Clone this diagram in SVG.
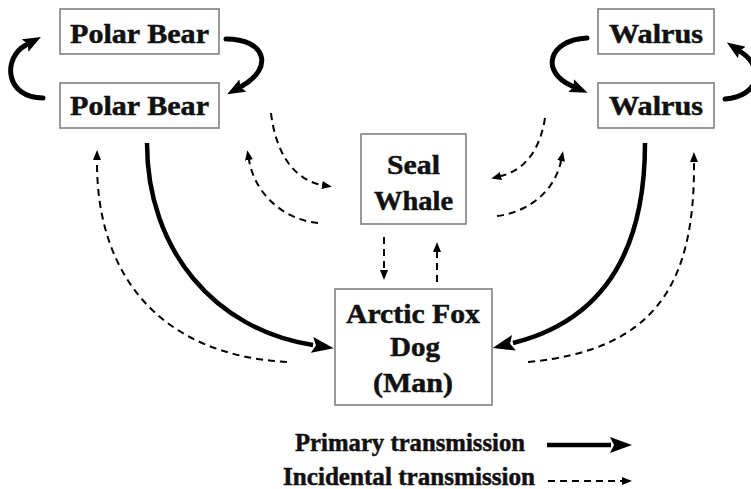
<svg xmlns="http://www.w3.org/2000/svg" width="751" height="489" viewBox="0 0 751 489">
<style>
.box{fill:#fff;stroke:#808080;stroke-width:1.6}
.lbl{font-family:"Liberation Serif","Times New Roman",serif;font-weight:bold;font-size:28px;fill:#111;stroke:#111;stroke-width:0.5;text-anchor:middle}
.leg{font-family:"Liberation Serif","Times New Roman",serif;font-weight:bold;font-size:25px;fill:#111;stroke:#111;stroke-width:0.5}
.prim{fill:none;stroke:#000;stroke-width:4.5;stroke-linecap:butt}
.cyc{fill:none;stroke:#000;stroke-width:5;stroke-linecap:round}
.inc{fill:none;stroke:#000;stroke-width:2;stroke-dasharray:7 5}
</style>
<defs>
<marker id="hp" markerUnits="userSpaceOnUse" markerWidth="22" markerHeight="16" refX="1" refY="8" orient="auto" viewBox="0 0 22 16">
<path d="M0,0 L22,8 L0,16 L4,8 z" fill="#000"/>
</marker>
<marker id="hc" markerUnits="userSpaceOnUse" markerWidth="18" markerHeight="14" refX="1" refY="7" orient="auto" viewBox="0 0 18 14">
<path d="M0,0 L18,7 L0,14 L3,7 z" fill="#000"/>
</marker>
<marker id="hi" markerUnits="userSpaceOnUse" markerWidth="10" markerHeight="8" refX="0" refY="4" orient="auto" viewBox="0 0 10 8">
<path d="M0,0 L10,4 L0,8 z" fill="#000"/>
</marker>
</defs>
<rect width="751" height="489" fill="#fff"/>
<g id="connectors">
<path class="cyc" d="M43,98 C5,98 2,58 26,45" marker-end="url(#hc)"/>
<path class="cyc" d="M226,39 C266,39 274,68 242,86" marker-end="url(#hc)"/>
<path class="cyc" d="M587,38 C548,40 540,72 572,86" marker-end="url(#hc)"/>
<path class="cyc" d="M725,99 C760,96 765,68 741,52" marker-end="url(#hc)"/>
<path class="prim" d="M147,143 C147,250 215,330 313,345" marker-end="url(#hp)"/>
<path class="prim" d="M645,143 C645,250 605,320 513,343" marker-end="url(#hp)"/>
<path class="inc" d="M287,362 C160,355 96,275 97,160" marker-end="url(#hi)"/>
<path class="inc" d="M528,362 C655,350 695,285 694,162" marker-end="url(#hi)"/>
<path class="inc" d="M271,113 C276,155 295,180 322,185" marker-end="url(#hi)"/>
<path class="inc" d="M318,223 C285,220 255,195 249,160" marker-end="url(#hi)"/>
<path class="inc" d="M545,118 C540,150 525,170 501,176" marker-end="url(#hi)"/>
<path class="inc" d="M497,216 C530,212 555,190 561,161" marker-end="url(#hi)"/>
<path class="inc" d="M384,237 L384,270" marker-end="url(#hi)"/>
<path class="inc" d="M437,282 L437,252" marker-end="url(#hi)"/>
</g>
<g id="polarbear1">
<rect class="box" x="60" y="9" width="159" height="45"/>
<text class="lbl" x="139.5" y="43" textLength="139" lengthAdjust="spacingAndGlyphs">Polar Bear</text>
</g>
<g id="polarbear2">
<rect class="box" x="60" y="83" width="159" height="45"/>
<text class="lbl" x="139.5" y="115" textLength="139" lengthAdjust="spacingAndGlyphs">Polar Bear</text>
</g>
<g id="walrus1">
<rect class="box" x="598" y="9" width="116" height="45"/>
<text class="lbl" x="656" y="43" textLength="94" lengthAdjust="spacingAndGlyphs">Walrus</text>
</g>
<g id="walrus2">
<rect class="box" x="598" y="83" width="116" height="45"/>
<text class="lbl" x="656" y="115" textLength="94" lengthAdjust="spacingAndGlyphs">Walrus</text>
</g>
<g id="sealwhale">
<rect class="box" x="361" y="134" width="105" height="90"/>
<text class="lbl" x="413.5" y="174" textLength="53" lengthAdjust="spacingAndGlyphs">Seal</text>
<text class="lbl" x="413.5" y="210" textLength="79" lengthAdjust="spacingAndGlyphs">Whale</text>
</g>
<g id="arcticfox">
<rect class="box" x="335" y="289" width="157" height="116"/>
<text class="lbl" x="413" y="323" textLength="134" lengthAdjust="spacingAndGlyphs">Arctic Fox</text>
<text class="lbl" x="415" y="356" textLength="50" lengthAdjust="spacingAndGlyphs">Dog</text>
<text class="lbl" x="413" y="392" textLength="80" lengthAdjust="spacingAndGlyphs">(Man)</text>
</g>
<g id="legend">
<text class="leg" x="295" y="451" textLength="230" lengthAdjust="spacingAndGlyphs">Primary transmission</text>
<text class="leg" x="283" y="485" textLength="252" lengthAdjust="spacingAndGlyphs">Incidental transmission</text>
<path class="prim" d="M547,445 L611,445" marker-end="url(#hp)"/>
<path class="inc" d="M548,481 L622,481" marker-end="url(#hi)"/>
</g>
</svg>
